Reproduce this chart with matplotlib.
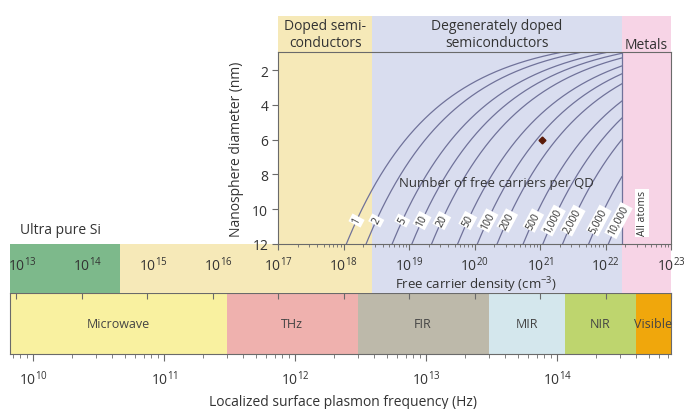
import numpy as np
import matplotlib
matplotlib.use("Agg")
import matplotlib.pyplot as plt
from matplotlib.transforms import blended_transform_factory, offset_copy

plt.rcParams['font.family'] = ['Open Sans', 'DejaVu Sans']
plt.rcParams['mathtext.fontset'] = 'custom'
plt.rcParams['mathtext.rm'] = 'Open Sans'
plt.rcParams['mathtext.it'] = 'Open Sans:italic'
plt.rcParams['mathtext.bf'] = 'Open Sans:bold'

# carrier density regions (cm^-3)
density_names = ["Ultra pure Si", "Doped", "Degenerate", "Metals"]
density_edges = [10**12.9, 10**14.59, 10**18.44, 10**22.25, 1e23]
density_colors = ["#7db98b", "#f6e9b8", "#d9ddef", "#f7d4e6"]
density_decades = list(range(13, 24))

# plasmon frequency bands (Hz)
band_names = ["Microwave", "THz", "FIR", "MIR", "NIR", "Visible"]
band_edges = [10**9.82, 3e11, 3e12, 3e13, 1.15e14, 4e14, 7.4e14]
band_colors = ["#f9f1a0", "#efb1ae", "#bdb9aa", "#d4e7ed", "#bed56e", "#f0a70c"]
freq_decades = [10, 11, 12, 13, 14]

# number of free carriers per quantum dot
carriers = [1, 2, 5, 10, 20, 50, 100, 200, 500, 1000, 2000, 5000, 10000]
carrier_labels = ["1", "2", "5", "10", "20", "50", "100", "200", "500",
                  "1,000", "2,000", "5,000", "10,000"]
point_n, point_d = 1.07e21, 6.0

W, H = 686, 410
line_col = "#70729a"
frame_col = "#6a6a6a"
txt_col = "#333333"


def frac(x0, y0, x1, y1):
    return [x0 / W, 1 - y1 / H, (x1 - x0) / W, (y1 - y0) / H]


fig = plt.figure(figsize=(W / 100, H / 100), dpi=100)

# ---- top plot: diameter vs density ----
ax = fig.add_axes(frac(278, 53, 671, 245))
ax.set_zorder(5)
ax.set_xscale('log')
ax.set_xlim(1e17, 1e23)
ax.set_ylim(12, 0.95)
for i in range(1, 4):
    ax.axvspan(max(density_edges[i], 1e17), density_edges[i + 1],
               color=density_colors[i], lw=0, zorder=0)
ax.axvline(density_edges[3], color=line_col, lw=0.9)

d = np.linspace(0.95, 12, 4000)
for N, lab in zip(carriers, carrier_labels):
    n = 6 * N / (np.pi * d**3) * 1e21
    n = np.where(n <= density_edges[3], n, np.nan)
    ax.plot(n, d, color=line_col, lw=0.9)
    dl = 10.65
    nl = 6 * N / (np.pi * dl**3) * 1e21
    ax.text(nl, dl, lab, rotation=62, ha='center', va='center', fontsize=7.5,
            color=txt_col, bbox=dict(fc='white', ec='none', pad=1.0))

ax.plot(point_n, point_d, marker='D', ms=3.5, color='#5a1a08', ls='none')
ax.text(10**20.34, 8.45, "Number of free carriers per QD", ha='center',
        va='center', fontsize=9.5, color=txt_col)
ax.text(10**22.56, 10.2, "All atoms", rotation=90, ha='center', va='center',
        fontsize=7.5, color=txt_col, bbox=dict(fc='white', ec='none', pad=1.0))

ax.set_yticks([2, 4, 6, 8, 10, 12])
ax.set_ylabel("Nanosphere diameter (nm)", fontsize=10, color=txt_col, labelpad=6)
ax.tick_params(axis='y', direction='out', length=4, width=0.8, colors=frame_col,
               labelcolor=txt_col, labelsize=10, pad=3)
ax.tick_params(axis='x', which='major', direction='out', length=4, width=0.8,
               colors=frame_col, labelbottom=False)
ax.tick_params(axis='x', which='minor', direction='out', length=2.5, width=0.6,
               colors=frame_col)
for s in ax.spines.values():
    s.set_color(frame_col)
    s.set_linewidth(0.8)

# ---- header row ----
axh = fig.add_axes(frac(278, 17, 671, 53))
axh.set_xscale('log')
axh.set_xlim(1e17, 1e23)
axh.set_ylim(0, 1)
axh.axis('off')
head_text = ["Doped semi-\nconductors", "Degenerately doped\nsemiconductors", "Metals"]
for i in range(1, 4):
    lo, hi = max(density_edges[i], 1e17), density_edges[i + 1]
    axh.axvspan(lo, hi, color=density_colors[i], lw=0)
    yy = 0.5 if i < 3 else 0.22
    axh.text(np.sqrt(lo * hi), yy, head_text[i - 1], ha='center', va='center',
             fontsize=10, color=txt_col, linespacing=1.15)

# ---- density band ----
axn = fig.add_axes(frac(10, 245, 671, 294))
axn.set_zorder(2)
axn.set_xscale('log')
axn.set_xlim(10**12.908, 1e23)
axn.set_ylim(0, 1)
for i in range(4):
    axn.axvspan(density_edges[i], density_edges[i + 1], color=density_colors[i],
                lw=0, zorder=0)
axn.set_yticks([])
axn.set_xticks([10.0**k for k in density_decades])
axn.tick_params(axis='x', which='major', direction='out', length=4, width=0.8,
                colors=frame_col, labelbottom=False)
axn.tick_params(axis='x', which='minor', direction='out', length=2.5, width=0.6,
                colors=frame_col)
for s in axn.spines.values():
    s.set_visible(False)
tr = blended_transform_factory(axn.transData, axn.transAxes)
tr_shift = offset_copy(tr, fig=fig, x=6, y=0, units='dots')
for k in density_decades:
    axn.text(10.0**k, 0.58, r"$10^{%d}$" % k, transform=tr if k >= 17 else tr_shift,
             ha='center', va='center', fontsize=10, color=txt_col)
fig.text(476 / W, 1 - 285 / H, r"Free carrier density (cm$^{-3}$)", ha='center',
         va='center', fontsize=9.5, color=txt_col)
fig.text(20 / W, 1 - 230 / H, "Ultra pure Si", ha='left', va='center',
         fontsize=10, color=txt_col)

# ---- frequency band ----
axf = fig.add_axes(frac(10, 294, 671, 355))
axf.set_zorder(1)
axf.set_xscale('log')
axf.set_xlim(10**9.824, 10**14.87)
axf.set_ylim(0, 1)
for i, name in enumerate(band_names):
    lo, hi = band_edges[i], band_edges[i + 1]
    axf.axvspan(lo, hi, color=band_colors[i], lw=0, zorder=0)
    axf.text(np.sqrt(lo * hi), 0.5, name, ha='center', va='center', fontsize=9,
             color="#444444")
axf.set_yticks([])
axf.set_xticks([10.0**k for k in freq_decades])
axf.set_xticklabels([r"$10^{%d}$" % k for k in freq_decades])
axf.tick_params(axis='x', which='major', direction='out', length=5, width=0.8,
                colors=frame_col, labelcolor=txt_col, labelsize=10, pad=6)
axf.tick_params(axis='x', which='minor', direction='out', length=3, width=0.6,
                colors=frame_col)
for s in axf.spines.values():
    s.set_color(frame_col)
    s.set_linewidth(0.8)
fig.text(343 / W, 1 - 403 / H, "Localized surface plasmon frequency (Hz)",
         ha='center', va='center', fontsize=10, color=txt_col)

fig.savefig("out.png", dpi=100)
